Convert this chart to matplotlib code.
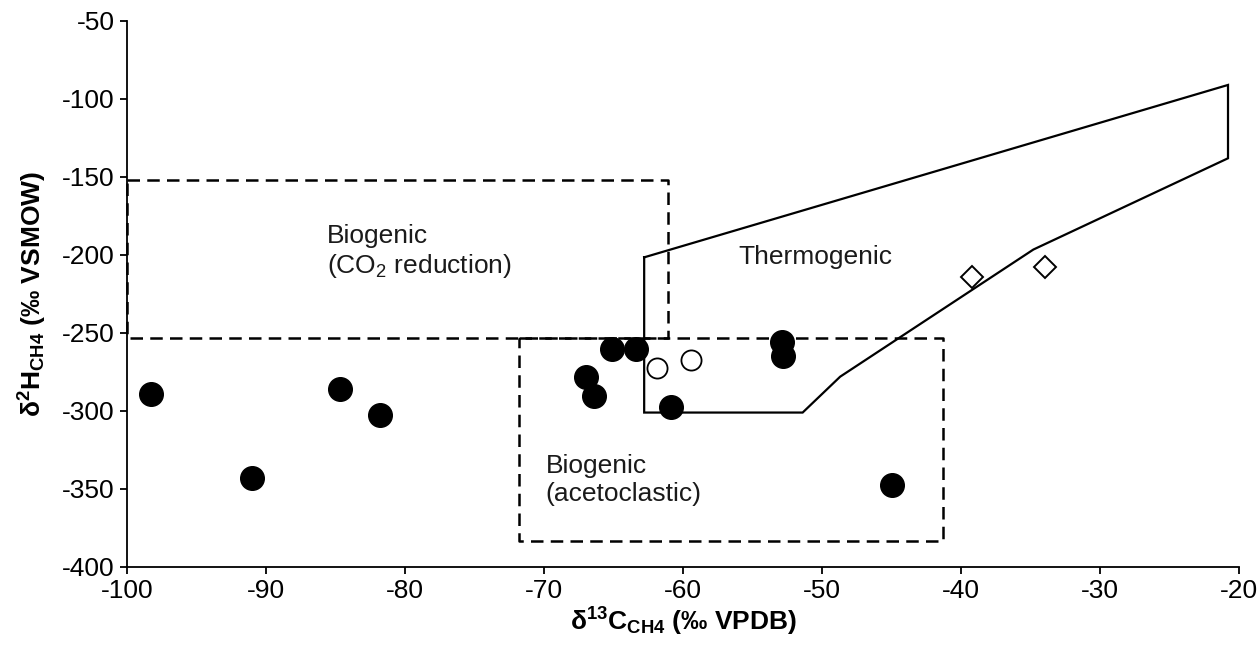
import matplotlib
matplotlib.use('Agg')
import matplotlib.pyplot as plt
import numpy as np

plt.rcParams.update({
    'font.family': 'sans-serif',
    'font.sans-serif': ['Liberation Sans', 'DejaVu Sans'],
    'font.size': 19,
    'mathtext.fontset': 'custom',
    'mathtext.rm': 'Liberation Sans',
    'mathtext.it': 'Liberation Sans:italic',
    'mathtext.bf': 'Liberation Sans:bold',
    'axes.unicode_minus': False,
    'axes.linewidth': 1.3,
    'xtick.major.width': 1.3,
    'ytick.major.width': 1.3,
    'xtick.major.size': 5,
    'ytick.major.size': 5,
    'axes.spines.top': False,
    'axes.spines.right': False,
})

# ── data ────────────────────────────────────────────────────
filled_x = [-98.3, -91.0, -84.7, -81.8, -67.0, -66.4, -65.1, -63.4, -60.9, -52.9, -52.8, -45.0]
filled_y = [-289.0, -343.0, -286.0, -302.6, -278.5, -290.4, -260.4, -260.4, -297.6, -255.6, -264.7, -347.4]
open_x = [-61.9, -59.4]
open_y = [-272.6, -267.3]
diamond_x = [-39.2, -34.0]
diamond_y = [-213.9, -207.9]

# genetic fields
co2_box_x = [-100, -61.1, -61.1, -100, -100]
co2_box_y = [-152, -152, -253, -253, -152]
aceto_box_x = [-71.8, -41.3, -41.3, -71.8, -71.8]
aceto_box_y = [-253, -253, -383.5, -383.5, -253]
thermo_x = [-62.8, -20.8, -20.8, -34.8, -48.7, -51.4, -62.8, -62.8]
thermo_y = [-201.5, -91.0, -138.0, -196.5, -278.0, -301.0, -301.0, -201.5]

x_ticks = np.arange(-100, -19, 10)
y_ticks = np.arange(-400, -49, 50)

fig = plt.figure(figsize=(12.58, 6.46), dpi=100)
ax = fig.add_axes([0.101, 0.1223, 0.884, 0.8452])

dash = (0, (5, 2.9))
ax.plot(co2_box_x, co2_box_y, color='black', lw=1.8, linestyle=dash, clip_on=False, zorder=2)
ax.plot(aceto_box_x, aceto_box_y, color='black', lw=1.8, linestyle=dash, clip_on=False, zorder=2)
ax.plot(thermo_x, thermo_y, color='black', lw=1.6, solid_joinstyle='miter', zorder=2)

ax.plot(filled_x, filled_y, 'o', color='black', ms=17, mec='black', zorder=4)
ax.plot(open_x, open_y, 'o', mfc='white', mec='black', ms=14.5, mew=1.3, zorder=4)
ax.plot(diamond_x, diamond_y, 'D', mfc='white', mec='black', ms=11.5, mew=1.4, zorder=4)

ax.text(-85.6, -198, 'Biogenic\n(CO$_2$ reduction)', ha='left', va='center',
        fontsize=19, linespacing=1.2, color='#1a1a1a')
ax.text(-56.0, -201.3, 'Thermogenic', ha='left', va='center', fontsize=19, color='#1a1a1a')
ax.text(-69.9, -344.2, 'Biogenic\n(acetoclastic)', ha='left', va='center',
        fontsize=19, linespacing=1.2, color='#1a1a1a')

ax.set_xlim(-100, -20)
ax.set_ylim(-400, -50)
ax.set_xticks(x_ticks)
ax.set_yticks(y_ticks)
ax.tick_params(labelsize=19, pad=4)

ax.set_xlabel(r'δ$\mathbf{^{13}}$C$\mathbf{_{CH4}}$ (‰ VPDB)', fontsize=19,
              fontweight='bold', labelpad=2)
ax.set_ylabel(r'δ$\mathbf{^{2}}$H$\mathbf{_{CH4}}$ (‰ VSMOW)', fontsize=19,
              fontweight='bold', labelpad=9)

fig.savefig('out.png', dpi=100)
plt.close()
